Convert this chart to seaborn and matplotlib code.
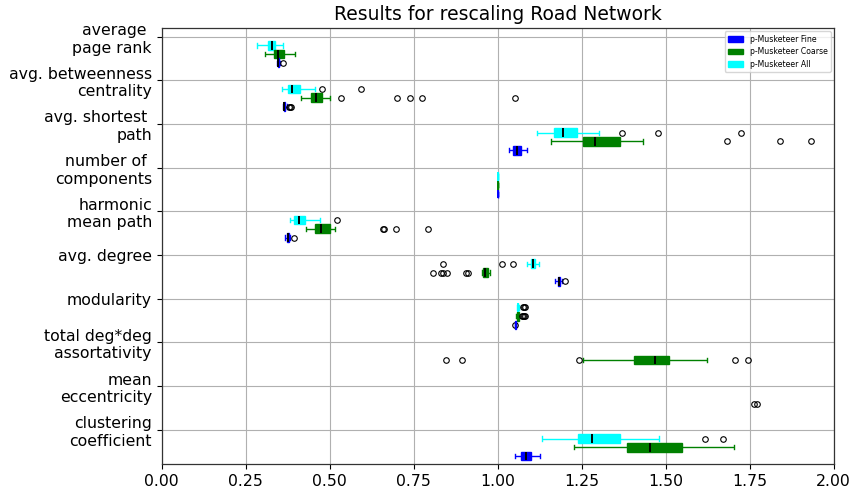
import numpy as np
import pandas as pd
import matplotlib
matplotlib.use("Agg")
import matplotlib.pyplot as plt
from matplotlib.patches import Patch
import seaborn as sns

# Network metrics (y axis), rescaled values of each run (x axis)
metrics = [
    "average \npage rank",
    "avg. betweenness\ncentrality",
    "avg. shortest \npath",
    "number of \ncomponents",
    "harmonic\nmean path",
    "avg. degree",
    "modularity",
    "total deg*deg\nassortativity",
    "mean\neccentricity",
    "clustering\ncoefficient",
]

series_names = ["p-Musketeer Fine", "p-Musketeer Coarse", "p-Musketeer All"]
series_colors = ["blue", "green", "cyan"]

fine_runs = [
    [0.344, 0.345, 0.346, 0.3465, 0.347, 0.348, 0.349, 0.351, 0.362],
    [0.361, 0.3615, 0.362, 0.3625, 0.363, 0.3635, 0.364, 0.3645, 0.365,
     0.366, 0.3665, 0.367, 0.368, 0.372, 0.378, 0.381, 0.384],
    [1.033, 1.040, 1.047, 1.053, 1.058, 1.063, 1.068, 1.078, 1.088],
    [1.0, 1.0, 1.0, 1.0, 1.0, 1.0, 1.0, 1.0, 1.0],
    [0.366, 0.369, 0.372, 0.3735, 0.375, 0.3765, 0.378, 0.383, 0.393],
    [1.172, 1.175, 1.178, 1.180, 1.181, 1.182, 1.184, 1.190, 1.199],
    [1.050, 1.052, 1.0525, 1.053, 1.053, 1.0532, 1.0535, 1.054, 1.0545],
    [3.05, 3.12, 3.18, 3.22, 3.26, 3.31, 3.35, 3.41, 3.48],
    [2.62, 2.66, 2.70, 2.73, 2.76, 2.79, 2.82, 2.86, 2.91],
    [1.050, 1.060, 1.070, 1.078, 1.085, 1.092, 1.099, 1.112, 1.127],
]

coarse_runs = [
    [0.308, 0.322, 0.334, 0.341, 0.347, 0.356, 0.365, 0.381, 0.398],
    [0.414, 0.420, 0.426, 0.431, 0.435, 0.439, 0.443, 0.446, 0.449, 0.452,
     0.455, 0.458, 0.460, 0.462, 0.465, 0.468, 0.471, 0.474, 0.476, 0.502,
     0.533, 0.700, 0.740, 0.774, 1.051],
    [1.158, 1.190, 1.220, 1.240, 1.253, 1.262, 1.272, 1.281, 1.289, 1.305,
     1.325, 1.345, 1.365, 1.432, 1.682, 1.839, 1.932],
    [1.0, 1.0, 1.0, 1.0, 1.0, 1.0, 1.0, 1.0, 1.0],
    [0.428, 0.436, 0.443, 0.448, 0.452, 0.455, 0.459, 0.463, 0.467, 0.470,
     0.473, 0.479, 0.485, 0.490, 0.496, 0.501, 0.516, 0.658, 0.662, 0.697,
     0.792],
    [0.808, 0.830, 0.836, 0.849, 0.906, 0.913, 0.953, 0.957, 0.958, 0.959,
     0.960, 0.961, 0.962, 0.9625, 0.963, 0.964, 0.965, 0.966, 0.967, 0.968,
     0.969, 0.970, 0.971, 0.972, 0.973, 0.974, 0.975, 0.976, 0.977],
    [1.055, 1.056, 1.0565, 1.057, 1.0575, 1.058, 1.0585, 1.059, 1.0593,
     1.0597, 1.060, 1.0603, 1.0607, 1.061, 1.0615, 1.062, 1.064, 1.073,
     1.076, 1.078, 1.081],
    [0.845, 0.893, 1.242, 1.253, 1.406, 1.425, 1.440, 1.455, 1.467, 1.480,
     1.492, 1.502, 1.511, 1.560, 1.623, 1.707, 1.744],
    [1.763, 1.771, 2.08, 2.15, 2.17, 2.19, 2.20, 2.21, 2.23, 2.25, 2.28,
     2.31, 2.34],
    [1.228, 1.320, 1.386, 1.420, 1.452, 1.500, 1.548, 1.630, 1.704],
]

all_runs = [
    [0.285, 0.302, 0.315, 0.322, 0.328, 0.333, 0.338, 0.349, 0.360],
    [0.358, 0.366, 0.371, 0.376, 0.381, 0.385, 0.388, 0.395, 0.403, 0.411,
     0.457, 0.476, 0.594],
    [1.118, 1.135, 1.150, 1.160, 1.167, 1.174, 1.181, 1.187, 1.193, 1.203,
     1.215, 1.226, 1.236, 1.301, 1.369, 1.477, 1.723],
    [1.0, 1.0, 1.0, 1.0, 1.0, 1.0, 1.0, 1.0, 1.0],
    [0.381, 0.388, 0.395, 0.403, 0.410, 0.418, 0.426, 0.471, 0.522],
    [0.838, 1.014, 1.046, 1.086, 1.098, 1.100, 1.102, 1.103, 1.104, 1.105,
     1.107, 1.109, 1.110, 1.115, 1.118, 1.121, 1.124],
    [1.057, 1.058, 1.0583, 1.0587, 1.059, 1.0593, 1.0596, 1.0598, 1.060,
     1.0603, 1.0606, 1.0608, 1.061, 1.063, 1.074, 1.077, 1.080],
    [2.42, 2.48, 2.53, 2.57, 2.61, 2.66, 2.70, 2.76, 2.83],
    [2.22, 2.26, 2.30, 2.33, 2.36, 2.39, 2.42, 2.47, 2.52],
    [1.131, 1.180, 1.215, 1.240, 1.255, 1.270, 1.282, 1.310, 1.340, 1.364,
     1.481, 1.616, 1.670],
]

x_ticks = [0.0, 0.25, 0.5, 0.75, 1.0, 1.25, 1.5, 1.75, 2.0]

# vertical offset of each series below its metric tick
offsets = {"p-Musketeer All": 0.2, "p-Musketeer Coarse": 0.4, "p-Musketeer Fine": 0.6}
# metrics whose boxes collapse to (almost) a single value: keep the median in the series colour
flat_metrics = [3, 6]

rows = []
for name, runs in zip(series_names, [fine_runs, coarse_runs, all_runs]):
    for i, vals in enumerate(runs):
        for v in vals:
            rows.append({"series": name, "metric": i,
                         "pos": i + offsets[name], "value": v})
df = pd.DataFrame(rows)

plt.rcParams["font.family"] = ["DejaVu Sans"]
fig = plt.figure(figsize=(8.53, 4.91), dpi=100)
ax = fig.add_axes([0.18957, 0.05438, 0.78781, 0.88798])


def draw_boxes(sub, col, median_col):
    sns.boxplot(
        data=sub, x="value", y="pos", orient="y", native_scale=True,
        width=0.2, color=col, linecolor=col, saturation=1, linewidth=1.0,
        whis=1.5, ax=ax,
        boxprops=dict(edgecolor=col, facecolor=col),
        whiskerprops=dict(color=col, linewidth=1.0),
        capprops=dict(color=col, linewidth=1.0),
        medianprops=dict(color=median_col, linewidth=1.4),
        flierprops=dict(marker="o", markerfacecolor="none",
                        markeredgecolor="black", markersize=4,
                        markeredgewidth=0.8),
    )


for name, col in zip(["p-Musketeer All", "p-Musketeer Coarse", "p-Musketeer Fine"],
                     ["cyan", "green", "blue"]):
    sub = df[df["series"] == name]
    flat = sub["metric"].isin(flat_metrics)
    # regular metrics: one call, positions one unit apart
    draw_boxes(sub[~flat], col, "black")
    # collapsed metrics: one call each so the box height stays the same
    for m in flat_metrics:
        draw_boxes(sub[sub["metric"] == m], col, col)

ax.set_xlim(0, 2)
ax.set_ylim(9.79, -0.19)
ax.set_xticks(x_ticks)
ax.set_xticklabels([f"{t:.2f}" for t in x_ticks], fontsize=11.3)
ax.set_yticks(range(len(metrics)))
ax.set_yticklabels(metrics, fontsize=11.3)
ax.set_xlabel("")
ax.set_ylabel("")
ax.grid(True, color="#b0b0b0", linewidth=0.8)
ax.set_axisbelow(True)
for s in ax.spines.values():
    s.set_color("#333333")
    s.set_linewidth(0.9)
ax.set_title("Results for rescaling Road Network", fontsize=13.5)

handles = [Patch(facecolor=c, edgecolor=c, label=n)
           for n, c in zip(series_names, series_colors)]
ax.legend(handles=handles, loc="upper right", fontsize=5.6,
          borderaxespad=0.4, labelspacing=0.45, framealpha=0.8)

fig.savefig("out.png", dpi=100)
